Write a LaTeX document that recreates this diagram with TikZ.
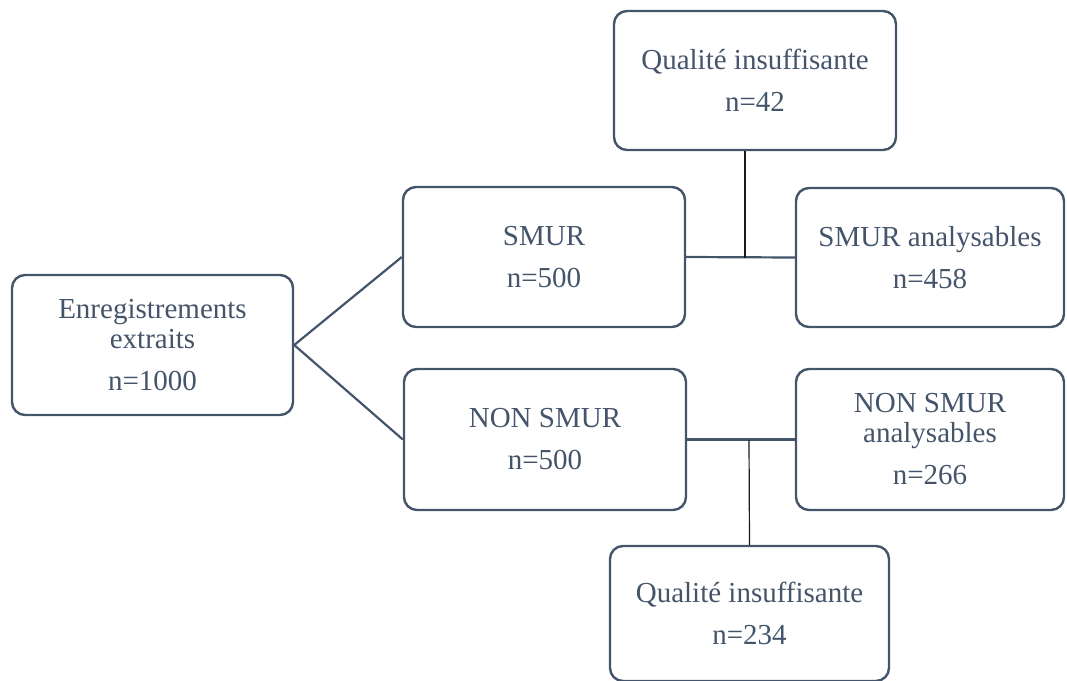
\documentclass[tikz,border=0pt]{standalone}
\usepackage{fontspec}
\setmainfont{Liberation Serif}
\usepackage{tikz}
\usepackage{color,xcolor}
\definecolor{bx}{HTML}{44546A}
\definecolor{tx}{HTML}{44546A}
\definecolor{vl}{HTML}{1A1A1A}

\begin{document}
\begin{tikzpicture}[x=1pt,y=-1pt]
            \tikzstyle{box}=[draw=bx,line width=2.4pt,rounded corners=13pt,text=tx,align=center,
              font=\fontsize{29}{30}\selectfont,minimum width=281pt,minimum height=140pt,inner sep=0pt]
            \tikzstyle{ln}=[draw=bx,line width=2.2pt]
            \tikzstyle{vln}=[draw=vl,line width=1.2pt]
            \useasboundingbox (0,0) rectangle (1067,680);
            \node[box] (ext) at (152.5,345) {Enregistrements\\extraits\\[12pt]n=1000};
            \node[box,minimum width=282pt] (smur) at (544,257) {SMUR\\[12pt]n=500};
            \node[box,minimum width=282pt,minimum height=141pt] (nsmur) at (545,439.5) {NON SMUR\\[12pt]n=500};
            \node[box,minimum width=282pt,minimum height=139pt] (qual1) at (755,80.5) {Qualité insuffisante\\[12pt]n=42};
            \node[box,minimum width=268pt,minimum height=139pt] (ana1) at (930,257.5) {SMUR analysables\\[12pt]n=458};
            \node[box,minimum width=268pt,minimum height=141pt] (nana) at (930,439.5) {NON SMUR\\analysables\\[12pt]n=266};
            \node[box,minimum width=279pt,minimum height=135pt] (qual2) at (749.5,613.5) {Qualité insuffisante\\[12pt]n=234};
            \coordinate (j1) at (745,258);
            \coordinate (j2) at (749,440);
            \draw[ln] (ext.east) -- (smur.west);
            \draw[ln] (ext.east) -- (nsmur.west);
            \draw[ln] (smur.east) -- (ana1.west);
            \draw[ln] (nsmur.east) -- (nana.west);
            \draw[vln] (qual1.south -| j1) -- (j1);
            \draw[vln] (j2) -- (qual2.north);
          \end{tikzpicture}
\end{document}
